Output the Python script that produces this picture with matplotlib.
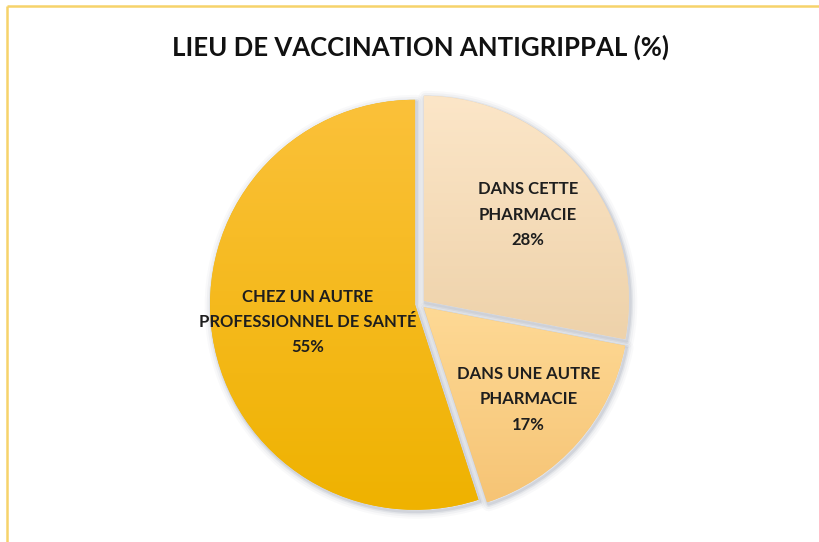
import numpy as np
import matplotlib
matplotlib.use("Agg")
import matplotlib.pyplot as plt
from matplotlib.patches import Wedge
from matplotlib.colors import LinearSegmentedColormap

# ---- data ----
categories = ["DANS CETTE\nPHARMACIE", "DANS UNE AUTRE\nPHARMACIE",
              "CHEZ UN AUTRE\nPROFESSIONNEL DE SANTÉ"]
values = [28, 17, 55]
title = "LIEU DE VACCINATION ANTIGRIPPAL (%)"

# ---- style ----
top_colors = ["#FCE6C8", "#FED995", "#FBC13A"]
bot_colors = ["#EED2AA", "#F6C475", "#EFB200"]
label_dist = [0.66, 0.68, 0.53]
FONT = ["Lato", "DejaVu Sans"]
W, H = 819, 542

fig = plt.figure(figsize=(W / 100, H / 100), dpi=100)
fig.patch.set_facecolor("white")
ax = fig.add_axes([0, 0, 1, 1])

R = 205
C = (420, H - 304)
wedges, _ = ax.pie(values, startangle=90, counterclock=False, radius=R,
                   center=C, explode=[5, 5, 5],
                   wedgeprops=dict(linewidth=0))

for i, w in enumerate(wedges):
    # soft shadow
    for lw, a in [(10, 0.04), (7, 0.06), (4, 0.10), (2, 0.14)]:
        sh = Wedge((w.center[0] + 1.5, w.center[1] - 2), w.r, w.theta1, w.theta2,
                   facecolor="none", edgecolor=(0.42, 0.46, 0.55, a),
                   linewidth=lw, zorder=0.5, joinstyle="round")
        ax.add_patch(sh)
    w.set_zorder(1)
    w.set_facecolor(bot_colors[i])
    # vertical gradient clipped to wedge
    bb = w.get_path().get_extents(w.get_patch_transform())
    cmap = LinearSegmentedColormap.from_list("g%d" % i, [bot_colors[i], top_colors[i]])
    grad = np.linspace(0, 1, 256).reshape(-1, 1)
    im = ax.imshow(grad, cmap=cmap, origin="lower", aspect="auto",
                   extent=[bb.x0, bb.x1, bb.y0, bb.y1], zorder=1.5,
                   interpolation="bilinear")
    im.set_clip_path(w)
    # label
    thm = np.deg2rad((w.theta1 + w.theta2) / 2)
    lx = w.center[0] + label_dist[i] * R * np.cos(thm)
    ly = w.center[1] + label_dist[i] * R * np.sin(thm)
    ax.text(lx, ly, "%s\n%d%%" % (categories[i], values[i]), ha="center",
            va="center", fontsize=12, fontweight="bold", family=FONT,
            color="#1E1E1E", linespacing=1.7, zorder=3)

ax.text(420, H - 47, title, ha="center", va="center", fontsize=18.5,
        fontweight="bold", family=FONT, color="#111111")

# chart-area border (top and left visible)
ax.plot([7, W], [H - 6, H - 6], color="#F6D36A", lw=1.8, solid_capstyle="butt", zorder=4)
ax.plot([7, 7], [H - 6, 0], color="#F6D36A", lw=1.8, solid_capstyle="butt", zorder=4)

ax.set_xlim(0, W)
ax.set_ylim(0, H)
ax.set_aspect("auto")
ax.axis("off")
fig.savefig("out.png", dpi=100, facecolor="white")
